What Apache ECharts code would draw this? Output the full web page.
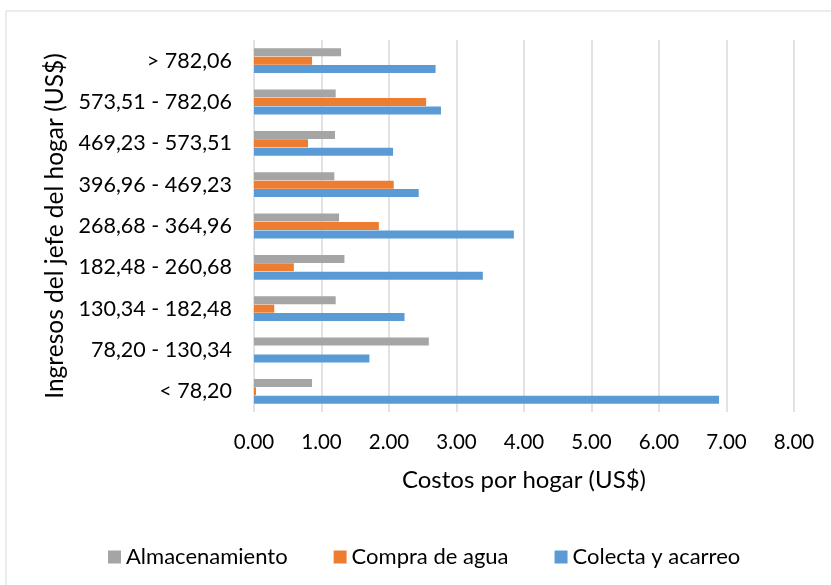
<!DOCTYPE html>
<html><head><meta charset="utf-8">
<script src="https://cdn.jsdelivr.net/npm/echarts@6/dist/echarts.min.js"></script>
<style>html,body{margin:0;padding:0;background:#fff}#c{width:831px;height:585px}</style>
</head><body><div id="c"></div>
<script>
const categories = ['< 78,20','78,20 - 130,34','130,34 - 182,48','182,48 - 260,68','268,68 - 364,96','396,96 - 469,23','469,23 - 573,51','573,51 - 782,06','> 782,06'];
const colecta = [6.89,1.71,2.23,3.39,3.85,2.44,2.06,2.77,2.69];
const compra = [0.03,0,0.30,0.59,1.85,2.07,0.80,2.55,0.86];
const almacen = [0.86,2.59,1.21,1.34,1.26,1.19,1.20,1.21,1.29];
const xTicks = [0,1,2,3,4,5,6,7,8];

const FONT = 'Lato';
const chart = echarts.init(document.getElementById('c'), null, {renderer:'canvas'});
chart.setOption({
  animation:false,
  backgroundColor:'#fff',
  textStyle:{fontFamily:FONT},
  graphic:[{type:'rect',shape:{x:6,y:11,width:840,height:600},style:{fill:'none',stroke:'#d9d9d9',lineWidth:1},silent:true}],
  grid:{left:254,right:37,top:40,bottom:173,containLabel:false},
  legend:{
    data:['Almacenamiento','Compra de agua','Colecta y acarreo'],
    left:103, top:541, itemWidth:13, itemHeight:13, itemGap:46,
    icon:'rect',
    textStyle:{fontFamily:FONT,fontSize:22,color:'#000',padding:[0,0,0,0]}
  },
  xAxis:{
    type:'value', min:xTicks[0], max:xTicks[xTicks.length-1], interval:1,
    name:'Costos por hogar (US$)', nameLocation:'middle', nameGap:56,
    nameTextStyle:{fontFamily:FONT,fontSize:24,color:'#000'},
    axisLine:{show:false}, axisTick:{show:false},
    axisLabel:{fontFamily:FONT,fontSize:20.5,color:'#000',margin:20,formatter:v=>v.toFixed(2)},
    splitLine:{show:true,lineStyle:{color:'#d9d9d9',width:1.5}}
  },
  yAxis:{
    type:'category', data:categories,
    name:'Ingresos del jefe del hogar (US$)', nameLocation:'middle', nameGap:183,
    nameTextStyle:{fontFamily:FONT,fontSize:24.5,color:'#000'},
    axisLine:{show:false}, axisTick:{show:false},
    axisLabel:{fontFamily:FONT,fontSize:21.5,color:'#000',margin:22}
  },
  series:[
    {name:'Almacenamiento',type:'bar',data:almacen,barWidth:8,barGap:'5%',itemStyle:{color:'#a5a5a5'}},
    {name:'Compra de agua',type:'bar',data:compra,barWidth:8,barGap:'5%',itemStyle:{color:'#ed7d31'}},
    {name:'Colecta y acarreo',type:'bar',data:colecta,barWidth:8,barGap:'5%',itemStyle:{color:'#5b9bd5'}}
  ]
});
</script></body></html>
